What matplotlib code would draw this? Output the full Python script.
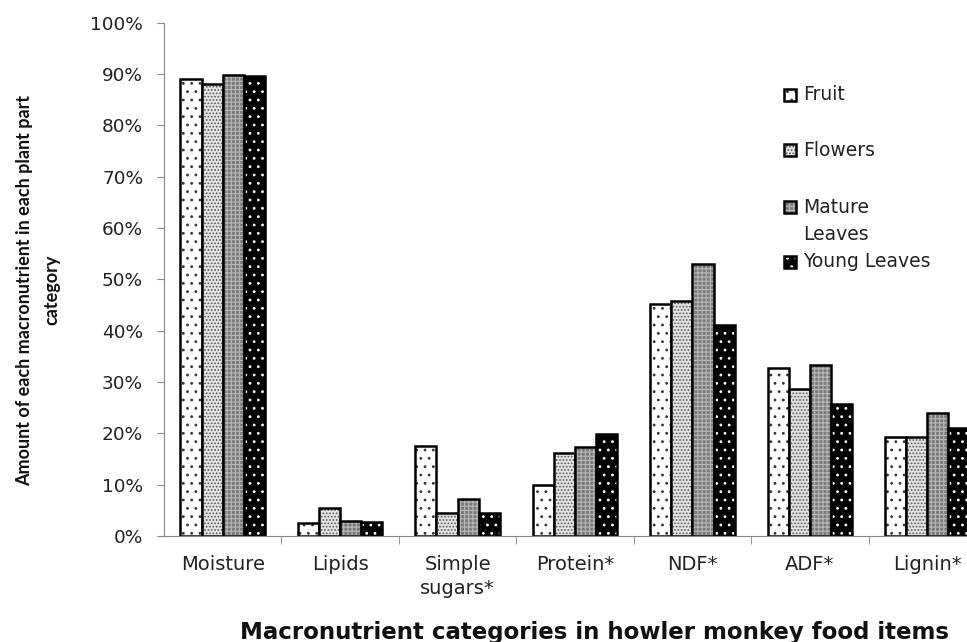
import numpy as np
import matplotlib.pyplot as plt
from matplotlib.patches import Rectangle
from matplotlib.ticker import PercentFormatter

plt.rcParams['font.family'] = ['DejaVu Sans']
plt.rcParams['hatch.linewidth'] = 0.8

categories = ['Moisture', 'Lipids', 'Simple\nsugars*', 'Protein*', 'NDF*', 'ADF*', 'Lignin*']
series = ['Fruit', 'Flowers', 'Mature\nLeaves', 'Young Leaves']
fruit = [0.890, 0.025, 0.175, 0.099, 0.452, 0.327, 0.193]
flowers = [0.881, 0.055, 0.045, 0.162, 0.458, 0.286, 0.193]
mature = [0.899, 0.029, 0.073, 0.173, 0.529, 0.333, 0.240]
young = [0.897, 0.027, 0.044, 0.199, 0.412, 0.258, 0.210]
values = [fruit, flowers, mature, young]

# fill colour, hatch, hatch colour
styles = [('white', '..', '#333333'),
          ('#e4e4e4', '.....', '#555555'),
          ('#7a7a7a', '++++', '#b8b8b8'),
          ('black', '..', 'white')]

fig = plt.figure(figsize=(9.67, 6.42), dpi=100)
W, H = 967.0, 642.0
ax = fig.add_axes([164 / W, 1 - 536 / H, 822 / W, 513.3 / H])

x = np.arange(len(categories))
w = 0.18
for i, vals in enumerate(values):
    fc, h, hc = styles[i]
    pos = x + (i - 1.5) * w
    ax.bar(pos, vals, w, color=fc, hatch=h, edgecolor=hc, linewidth=0)
    ax.bar(pos, vals, w, fill=False, edgecolor='black', linewidth=1.8)

ax.set_xlim(-0.5, len(categories) - 0.5)
ax.set_ylim(0, 1.0)
ax.set_yticks(np.arange(0, 1.01, 0.1))
ax.yaxis.set_major_formatter(PercentFormatter(1.0, decimals=0))
ax.set_xticks(x)
ax.set_xticklabels(categories, linespacing=1.3)
ax.set_xticks(np.arange(0.5, len(categories) - 0.5, 1), minor=True)
ax.tick_params(axis='x', which='major', length=0, pad=14, labelsize=14, colors='#222222')
ax.tick_params(axis='x', which='minor', length=6, color='#888888')
ax.tick_params(axis='y', length=5, color='#888888', labelsize=13.3, labelcolor='#222222', pad=10)
for s in ['top', 'right']:
    ax.spines[s].set_visible(False)
for s in ['left', 'bottom']:
    ax.spines[s].set_color('#888888')

fig.text(595 / W, 1 - 632 / H, 'Macronutrient categories in howler monkey food items',
         fontsize=16.5, fontweight='bold', ha='center', va='center', color='#111111')
fig.text(38 / W, 1 - 290 / H, 'Amount of each macronutrient in each plant part\ncategory',
         family=['Lato', 'DejaVu Sans'], fontsize=13, fontweight='bold', rotation=90,
         ha='center', va='center', multialignment='center', linespacing=1.75, color='#111111')

# legend drawn by hand to keep the uneven spacing of the original
marker_y = [95, 150, 207, 262]
text_y = [95, 150, 221, 262]
for i, lab in enumerate(series):
    fc, h, hc = styles[i]
    y0 = 1 - (marker_y[i] + 6) / H
    fig.patches.append(Rectangle((784 / W, y0), 12 / W, 12 / H, transform=fig.transFigure,
                                 facecolor=fc, hatch=h, edgecolor=hc, linewidth=0))
    fig.patches.append(Rectangle((784 / W, y0), 12 / W, 12 / H, transform=fig.transFigure,
                                 fill=False, edgecolor='black', linewidth=1.8))
    fig.text(803 / W, 1 - text_y[i] / H, lab, fontsize=13.5, ha='left', va='center',
             linespacing=1.5, color='#222222')

fig.savefig('out.png', dpi=100)
